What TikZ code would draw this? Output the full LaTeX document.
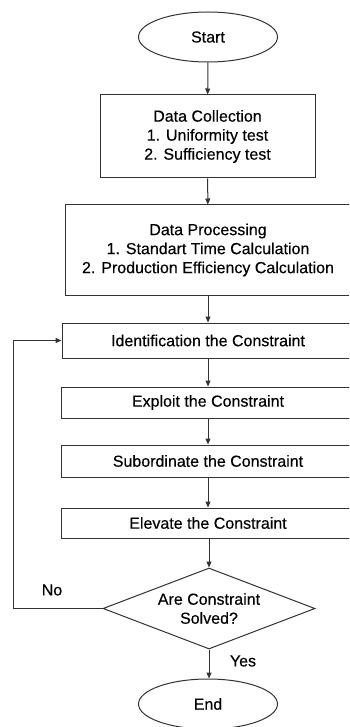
\documentclass[tikz,border=0pt]{standalone}
\usepackage{fontspec}
\setmainfont{Liberation Sans}
\newfontfamily\mf{Liberation Sans}[FakeBold=0.3]
\usetikzlibrary{shapes.geometric,arrows.meta}
\definecolor{ln}{HTML}{333333}
\tikzset{
  every node/.style={font=\mf\fontsize{16}{19}\selectfont, text=black},
  box/.style={draw=ln, line width=1pt, rectangle, inner sep=0pt, align=center},
  term/.style={draw=ln, line width=1pt, ellipse, inner sep=0pt, minimum width=139pt, minimum height=50pt},
  dec/.style={draw=ln, line width=1pt, diamond, inner sep=0pt, aspect=2.62, minimum width=212pt, minimum height=81pt, align=center},
  flow/.style={draw=ln, line width=1pt, -{Triangle[length=6pt,width=5pt]}},
  lbl/.style={font=\mf\fontsize{16}{19}\selectfont}
}
\begin{document}
\begin{tikzpicture}[x=1pt,y=-1pt]
\clip (0,0) rectangle (349,727);
\fill[white] (0,0) rectangle (349,727);
\node[term] (start) at (208,37) {Start};
\node[box, minimum width=215pt, minimum height=83pt] (dc) at (207.5,136.5) {Data Collection\\1. Uniformity test\\2. Sufficiency test};
\node[box, minimum width=286pt, minimum height=90pt] (dp) at (208,250) {Data Processing\\1. Standart Time Calculation\\2. Production Efficiency Calculation};
\node[box, minimum width=292pt, minimum height=35pt] (id) at (208,340.5) {Identification the Constraint};
\node[box, minimum width=294pt, minimum height=31pt] (ex) at (208,402.5) {Exploit the Constraint};
\node[box, minimum width=294pt, minimum height=32pt] (sub) at (208,461) {Subordinate the Constraint};
\node[box, minimum width=294pt, minimum height=30pt] (el) at (208,523) {Elevate the Constraint};
\node[dec] (d) at (209,608.5) {Are Constraint\\Solved?};
\node[term] (end) at (208,704) {End};
\coordinate (c1) at (13,608.5);
\coordinate (c2) at (13,340.5);
\draw[flow] (start) -- (dc);
\draw[flow] (dc) -- (dp);
\draw[flow] (dp) -- (id);
\draw[flow] (id) -- (ex);
\draw[flow] (ex) -- (sub);
\draw[flow] (sub) -- (el);
\draw[flow] (el.south -| d.north) -- (d.north);
\draw[flow] (d.south) -- (end.north -| d.south);
\draw[flow] (d.west) -- (c1) -- (c2) -- (id.west);
\node[lbl] (no) at (52,590) {No};
\node[lbl] (yes) at (243,661) {Yes};
\end{tikzpicture}
\end{document}
